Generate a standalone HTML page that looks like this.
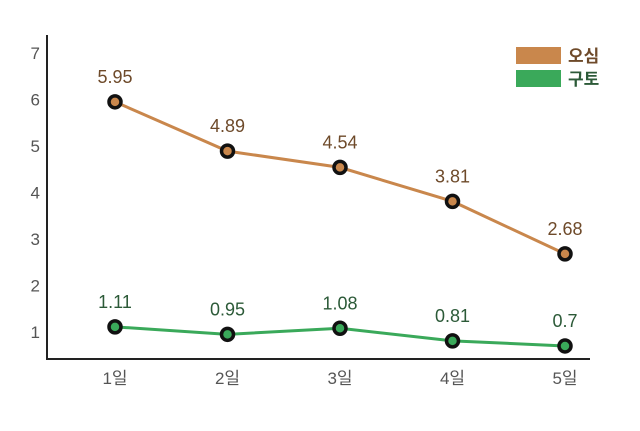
<!DOCTYPE html>
<html><head><meta charset="utf-8">
<style>
body{margin:0;background:#fff;}
svg{display:block;font-family:"Liberation Sans","Noto Sans CJK KR",sans-serif;}
</style></head>
<body>
<svg id="chart" width="640" height="431">
<g id="axes"></g><g id="series"></g>
<g>
<rect x="516" y="47" width="45" height="17" fill="#c9874c"/>
<text x="568" y="62" font-size="17" font-weight="bold" fill="#6e4a2a">오심</text>
<rect x="516" y="70" width="45" height="17" fill="#3aa95a"/>
<text x="568" y="85" font-size="17" font-weight="bold" fill="#2c5a38">구토</text>
</g>
</svg>
<script>
const categories=["1일","2일","3일","4일","5일"];
const osim=[5.95,4.89,4.54,3.81,2.68];
const guto=[1.11,0.95,1.08,0.81,0.7];
const yTicks=[1,2,3,4,5,6,7];
const NS="http://www.w3.org/2000/svg";
function y(v){return 378.5-v*46.5;}
function x(i){return 115+i*112.5;}
function mk(tag,attrs,parent){const e=document.createElementNS(NS,tag);for(const k in attrs)e.setAttribute(k,attrs[k]);parent.appendChild(e);return e;}
const axes=document.getElementById('axes'),ser=document.getElementById('series');
let a=mk('line',{x1:47,y1:35,x2:47,y2:359,stroke:'#222','stroke-width':2},axes);


a=mk('line',{x1:46,y1:359,x2:590,y2:359,stroke:'#222','stroke-width':2},axes);


yTicks.forEach(t=>{const e=mk('text',{x:40,y:y(t)+6,'font-size':17,fill:'#555','text-anchor':'end'},axes);e.textContent=t;

});
categories.forEach((c,i)=>{const e=mk('text',{x:x(i),y:384,'font-size':17,fill:'#555','text-anchor':'middle'},axes);e.textContent=c;

});
function draw(vals,col,lab,name){
const p=mk('polyline',{points:vals.map((v,i)=>x(i)+','+y(v)).join(' '),fill:'none',stroke:col,'stroke-width':3},ser);


vals.forEach((v,i)=>{const c=mk('circle',{cx:x(i),cy:y(v),r:6,fill:col,stroke:'#111','stroke-width':3.5},ser);


const t=mk('text',{x:x(i),y:y(v)-19,'font-size':18,fill:lab,'text-anchor':'middle'},ser);t.textContent=v;

});}
draw(osim,'#c9874c','#6e4a2a','osim');
draw(guto,'#3aa95a','#2c5a38','guto');
</script>
</body></html>
